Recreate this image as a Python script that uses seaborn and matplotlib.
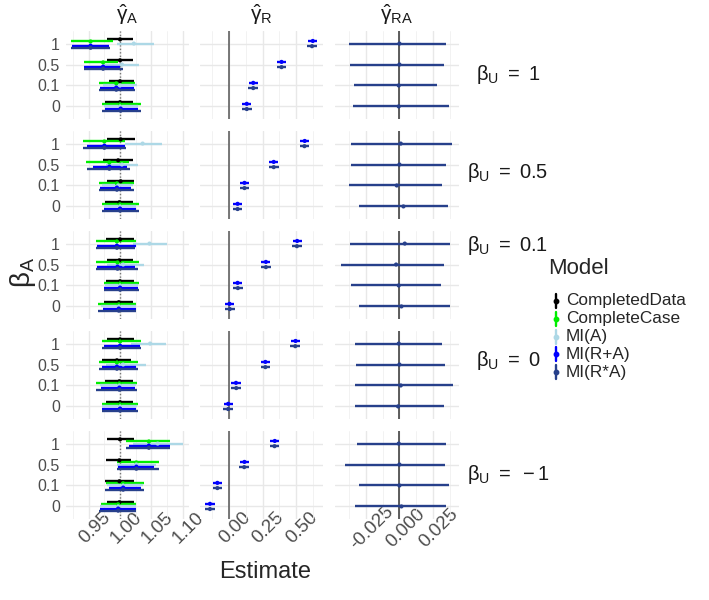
import numpy as np
import pandas as pd
import matplotlib
matplotlib.use("Agg")
import matplotlib.pyplot as plt
import seaborn as sns

# ---------------- data (rows: beta_U = 1, 0.5, 0.1, 0, -1 ; cols: beta_A = 1, 0.5, 0.1, 0)
beta_u = ["1", "0.5", "0.1", "0", "-1"]
beta_a = ["1", "0.5", "0.1", "0"]
models = ["CompletedData", "CompleteCase", "MI(A)", "MI(R+A)", "MI(R*A)"]
model_colors = ["#000000", "#00EE00", "#ADD8E6", "#0000FF", "#27408B"]

# gamma_A
gA_cd_est = [[1.000, 1.000, 1.000, 1.000], [1.001, 0.997, 1.001, 0.999], [1.000, 0.999, 1.000, 0.998], [1.000, 0.995, 0.999, 1.000], [1.000, 0.999, 0.999, 0.999]]
gA_cd_lo = [[0.980, 0.980, 0.982, 0.976], [0.979, 0.973, 0.980, 0.976], [0.978, 0.979, 0.978, 0.975], [0.980, 0.972, 0.976, 0.977], [0.980, 0.977, 0.976, 0.979]]
gA_cd_hi = [[1.021, 1.021, 1.022, 1.020], [1.024, 1.020, 1.023, 1.021], [1.022, 1.021, 1.022, 1.020], [1.023, 1.017, 1.021, 1.021], [1.023, 1.018, 1.022, 1.022]]

gA_cc_est = [[0.953, 0.973, 0.994, 1.000], [0.975, 0.983, 0.995, 1.000], [0.995, 0.996, 1.000, 0.998], [1.000, 0.995, 0.999, 1.000], [1.046, 1.026, 1.005, 0.997]]
gA_cc_lo = [[0.922, 0.942, 0.967, 0.971], [0.941, 0.946, 0.966, 0.971], [0.962, 0.962, 0.974, 0.965], [0.971, 0.967, 0.962, 0.971], [1.009, 0.995, 0.978, 0.969]]
gA_cc_hi = [[0.988, 0.997, 1.024, 1.034], [1.008, 1.015, 1.022, 1.030], [1.025, 1.030, 1.031, 1.026], [1.033, 1.029, 1.027, 1.028], [1.080, 1.062, 1.038, 1.026]]

gA_mia_est = [[1.022, 1.003, 1.000, 1.000], [1.036, 1.003, 0.997, 1.000], [1.047, 1.005, 1.000, 0.998], [1.048, 1.005, 0.999, 1.000], [1.060, 1.026, 1.005, 0.997]]
gA_mia_lo = [[0.995, 0.975, 0.973, 0.974], [1.008, 0.978, 0.971, 0.974], [1.021, 0.980, 0.976, 0.969], [1.018, 0.978, 0.968, 0.972], [1.021, 0.995, 0.979, 0.968]]
gA_mia_hi = [[1.054, 1.030, 1.027, 1.029], [1.067, 1.029, 1.021, 1.026], [1.075, 1.039, 1.029, 1.025], [1.073, 1.041, 1.026, 1.027], [1.101, 1.058, 1.036, 1.025]]

gA_mira_est = [[0.953, 0.973, 0.994, 1.001], [0.975, 0.983, 0.995, 1.000], [0.995, 0.996, 1.000, 0.998], [1.000, 0.995, 0.999, 1.000], [1.046, 1.026, 1.005, 0.997]]
gA_mira_lo = [[0.924, 0.942, 0.968, 0.976], [0.947, 0.957, 0.968, 0.974], [0.963, 0.964, 0.975, 0.973], [0.975, 0.971, 0.970, 0.971], [1.015, 0.997, 0.982, 0.968]]
gA_mira_hi = [[0.982, 1.000, 1.022, 1.029], [1.008, 1.011, 1.018, 1.025], [1.026, 1.024, 1.029, 1.025], [1.032, 1.025, 1.024, 1.026], [1.079, 1.054, 1.034, 1.025]]

gA_mirxa_est = [[0.953, 0.973, 0.994, 1.001], [0.975, 0.983, 0.995, 1.000], [0.995, 0.996, 1.000, 0.998], [1.000, 0.995, 0.999, 1.000], [1.046, 1.026, 1.005, 0.997]]
gA_mirxa_lo = [[0.922, 0.942, 0.967, 0.971], [0.941, 0.947, 0.967, 0.971], [0.962, 0.962, 0.975, 0.965], [0.971, 0.967, 0.962, 0.971], [1.009, 0.995, 0.976, 0.967]]
gA_mirxa_hi = [[0.984, 1.005, 1.024, 1.034], [1.009, 1.016, 1.023, 1.030], [1.024, 1.029, 1.030, 1.026], [1.033, 1.028, 1.027, 1.028], [1.080, 1.062, 1.038, 1.026]]

# gamma_R
gR_mira_est = [[0.623, 0.391, 0.181, 0.133], [0.563, 0.333, 0.116, 0.065], [0.507, 0.275, 0.065, 0.005], [0.495, 0.271, 0.053, -0.005], [0.341, 0.116, -0.085, -0.140]]
gR_mira_lo = [[0.589, 0.357, 0.147, 0.099], [0.529, 0.299, 0.082, 0.031], [0.473, 0.241, 0.031, -0.029], [0.461, 0.237, 0.019, -0.039], [0.307, 0.082, -0.119, -0.174]]
gR_mira_hi = [[0.657, 0.425, 0.215, 0.167], [0.597, 0.367, 0.150, 0.099], [0.541, 0.309, 0.099, 0.039], [0.529, 0.305, 0.087, 0.029], [0.375, 0.150, -0.051, -0.106]]

gR_mirxa_est = [[0.617, 0.391, 0.181, 0.133], [0.561, 0.333, 0.116, 0.065], [0.505, 0.275, 0.067, 0.007], [0.493, 0.271, 0.055, -0.005], [0.339, 0.114, -0.085, -0.140]]
gR_mirxa_lo = [[0.581, 0.355, 0.145, 0.097], [0.525, 0.297, 0.080, 0.029], [0.469, 0.239, 0.031, -0.029], [0.457, 0.235, 0.019, -0.041], [0.303, 0.078, -0.121, -0.176]]
gR_mirxa_hi = [[0.653, 0.427, 0.217, 0.169], [0.597, 0.369, 0.152, 0.101], [0.541, 0.311, 0.103, 0.043], [0.529, 0.307, 0.091, 0.031], [0.375, 0.150, -0.049, -0.104]]

# gamma_RA
gRA_mirxa_est = [[0.0, 0.0, -0.0005, -0.0005], [0.001, 0.0, -0.002, 0.003], [0.004, -0.0025, -0.0005, 0.0015], [-0.0005, 0.0, 0.001, -0.001], [-0.0005, 0.0, 0.0, 0.0015]]
gRA_mirxa_lo = [[-0.038, -0.037, -0.034, -0.035], [-0.036, -0.036, -0.0375, -0.030], [-0.037, -0.044, -0.036, -0.030], [-0.033, -0.0325, -0.0335, -0.0335], [-0.032, -0.0405, -0.0305, -0.033]]
gRA_mirxa_hi = [[0.0345, 0.033, 0.028, 0.037], [0.0395, 0.0345, 0.032, 0.036], [0.038, 0.033, 0.031, 0.038], [0.032, 0.034, 0.040, 0.033], [0.0345, 0.034, 0.037, 0.035]]

# ---------------- long table
series = {
    "gA": [("CompletedData", gA_cd_est, gA_cd_lo, gA_cd_hi),
           ("CompleteCase", gA_cc_est, gA_cc_lo, gA_cc_hi),
           ("MI(A)", gA_mia_est, gA_mia_lo, gA_mia_hi),
           ("MI(R+A)", gA_mira_est, gA_mira_lo, gA_mira_hi),
           ("MI(R*A)", gA_mirxa_est, gA_mirxa_lo, gA_mirxa_hi)],
    "gR": [("MI(R+A)", gR_mira_est, gR_mira_lo, gR_mira_hi),
           ("MI(R*A)", gR_mirxa_est, gR_mirxa_lo, gR_mirxa_hi)],
    "gRA": [("MI(R*A)", gRA_mirxa_est, gRA_mirxa_lo, gRA_mirxa_hi)],
}
rows = []
for term, lst in series.items():
    n = len(lst)
    for k, (m, est, lo, hi) in enumerate(lst):
        off = -(0.5 / n) * (k - (n - 1) / 2)   # dodge, first model on top
        for i in range(len(beta_u)):
            for j in range(len(beta_a)):
                rows.append(dict(term=term, model=m, bu=i, ba=j,
                                 y=(len(beta_a) - 1 - j) + off,
                                 est=est[i][j], lo=lo[i][j], hi=hi[i][j]))
df = pd.DataFrame(rows)

# ---------------- style
sns.set_theme(style="white")
plt.rcParams["font.family"] = ["Liberation Sans", "DejaVu Sans"]
plt.rcParams["mathtext.fontset"] = "custom"
plt.rcParams["mathtext.rm"] = "Liberation Sans"
plt.rcParams["mathtext.it"] = "Liberation Sans:italic"
plt.rcParams["mathtext.bf"] = "Liberation Sans:bold"

palette = dict(zip(models, model_colors))
terms = ["gA", "gR", "gRA"]
strip_top = [r"$\hat{\mathrm{\gamma}}_{\mathrm{A}}$", r"$\hat{\mathrm{\gamma}}_{\mathrm{R}}$",
             r"$\hat{\mathrm{\gamma}}_{\mathrm{RA}}$"]
strip_right = [r"$\mathrm{\beta}_{\mathrm{U}}\ =\ 1$", r"$\mathrm{\beta}_{\mathrm{U}}\ =\ 0.5$",
               r"$\mathrm{\beta}_{\mathrm{U}}\ =\ 0.1$", r"$\mathrm{\beta}_{\mathrm{U}}\ =\ 0$",
               r"$\mathrm{\beta}_{\mathrm{U}}\ =\ -1$"]
strip_right_y = [75, 172, 246, 360, 474]
major_ticks = [[0.95, 1.00, 1.05, 1.10], [0.00, 0.25, 0.50], [-0.025, 0.000, 0.025]]
major_labels = [["0.95", "1.00", "1.05", "1.10"], ["0.00", "0.25", "0.50"], ["-0.025", "0.000", "0.025"]]
minor_ticks = [[0.925, 0.975, 1.025, 1.075], [-0.125, 0.125, 0.375, 0.625], [-0.0375, -0.0125, 0.0125, 0.0375]]

W, H = 709, 600
fig = plt.figure(figsize=(W / 100, H / 100), dpi=100)
col_left = [65.5, 199.5, 335.0]
row_top = [31, 131, 231, 331, 431]
pw, ph = 123.5, 88

for c, term in enumerate(terms):
    tdf = df[df.term == term]
    lo_all, hi_all = tdf.lo.min(), tdf.hi.max()
    pad = 0.05 * (hi_all - lo_all)
    for r in range(len(beta_u)):
        ax = fig.add_axes([col_left[c] / W, 1 - (row_top[r] + ph) / H, pw / W, ph / H])
        sub = tdf[tdf.bu == r]
        ax.set_xlim(lo_all - pad, hi_all + pad)
        ax.set_ylim(-0.6, 3.6)
        ax.set_xticks(major_ticks[c])
        ax.set_xticks(minor_ticks[c], minor=True)
        ax.set_yticks(range(4))
        ax.grid(True, which="major", color="#E8E8E8", lw=1.0)
        ax.grid(True, which="minor", axis="x", color="#F0F0F0", lw=0.6)
        ax.set_axisbelow(True)
        for s in ax.spines.values():
            s.set_visible(False)
        ax.tick_params(which="both", length=0)
        if c == 0:
            ax.axvline(1.0, color="#777777", lw=1.0, ls=(0, (1, 1.5)), zorder=1)
        else:
            ax.axvline(0.0, color="#555555" if c == 1 else "#333333", lw=1.1, zorder=1)
        for m in models:
            ms = sub[sub.model == m]
            if ms.empty:
                continue
            ax.hlines(ms.y, ms.lo, ms.hi, color=palette[m], lw=1.7, zorder=2)
        sns.scatterplot(data=sub, x="est", y="y", hue="model", palette=palette,
                        s=9, linewidth=0, legend=False, ax=ax, zorder=3)
        ax.set_xlabel("")
        ax.set_ylabel("")
        if c == 0:
            ax.set_yticklabels(beta_a[::-1], fontsize=11.5, color="#4D4D4D")
            ax.tick_params(axis="y", pad=4)
        else:
            ax.set_yticklabels([])
        if r == len(beta_u) - 1:
            ax.set_xticklabels(major_labels[c], fontsize=13.5, color="#4D4D4D",
                               rotation=45, ha="center", va="top", rotation_mode="anchor")
            ax.tick_params(axis="x", pad=2)
        else:
            ax.set_xticklabels([])
        if r == 0:
            fig.text((col_left[c] + pw / 2) / W, 1 - 15 / H, strip_top[c],
                     ha="center", va="center", fontsize=15, color="#1A1A1A")
        if c == 2:
            fig.text(508 / W, 1 - strip_right_y[r] / H, strip_right[r],
                     ha="center", va="center", fontsize=14.5, color="#1A1A1A")

fig.text(265 / W, 1 - 572 / H, "Estimate", ha="center", va="center", fontsize=17)
fig.text(23 / W, 1 - 272 / H, r"$\mathrm{\beta}_{\mathrm{A}}$", ha="center", va="center",
         fontsize=20, rotation=90)

# legend
lax = fig.add_axes([0, 0, 1, 1])
lax.set_xlim(0, W)
lax.set_ylim(H, 0)
lax.axis("off")
lax.text(548, 268, "Model", fontsize=16, ha="left", va="center")
for k, m in enumerate(models):
    yk = 301 + 17.8 * k
    lax.plot([556, 556], [yk - 7, yk + 7], color=palette[m], lw=1.7)
    lax.plot([556], [yk], "o", color=palette[m], ms=3.2)
    lax.text(566, yk, m, fontsize=12.4, ha="left", va="center")

fig.savefig("out.png", dpi=100)
